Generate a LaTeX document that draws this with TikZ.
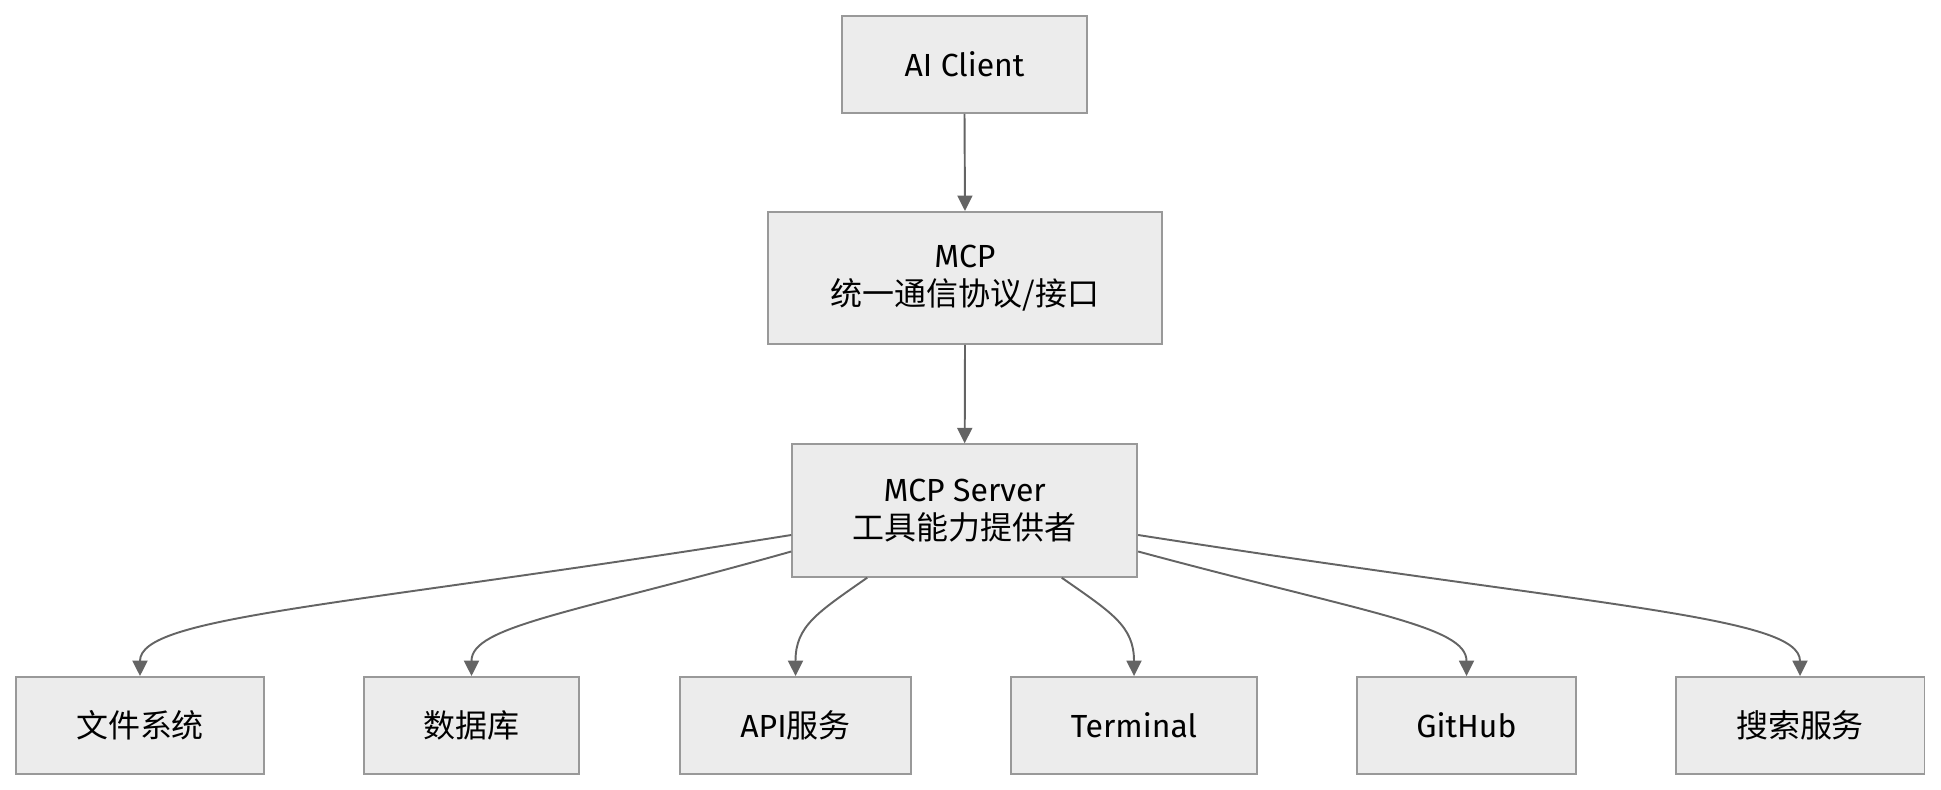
\documentclass[tikz,border=0pt]{standalone}
\usepackage{fontspec}
\setmainfont{Fira Sans}
\newfontfamily\cjk{Noto Sans CJK SC}
\usepackage{tikz}
\usetikzlibrary{arrows.meta, calc}
\definecolor{nodefill}{RGB}{236, 236, 236}
\definecolor{nodeline}{RGB}{153, 153, 153}
\definecolor{edgegray}{RGB}{100, 100, 100}

\begin{document}
\begin{tikzpicture}[
  x=0.02cm, y=-0.02cm,
  box/.style={draw=nodeline, fill=nodefill, line width=1.1pt, align=center, inner sep=0pt, font=\fontsize{18.2}{21.5}\selectfont},
  toolbox/.style={box, minimum height=1.94cm},
  arrow/.style={-{Triangle[length=3.1mm, width=3mm]}, line width=1.1pt, edgegray}
]
\useasboundingbox (0,0) rectangle (1941,790);

% Client and protocol
\node[box, minimum width=4.9cm, minimum height=1.94cm] (client) at (964.5, 64.5) {AI Client};
\node[box, minimum width=7.88cm, minimum height=2.64cm] (mcp) at (965, 278) {MCP\\\cjk 统一通信协议/接口};
\node[box, minimum width=6.9cm, minimum height=2.65cm] (server) at (964.7, 510.5) {MCP Server\\\cjk 工具能力提供者};

\draw[arrow] (client.south) -- (mcp.north);
\draw[arrow] (mcp.south) -- (server.north);

% Tools
\node[toolbox, minimum width=4.96cm] (files) at (140, 725.5) {\cjk 文件系统};
\node[toolbox, minimum width=4.3cm] (db) at (471.5, 725.5) {\cjk 数据库};
\node[toolbox, minimum width=4.62cm] (api) at (795.5, 725.5) {API{\cjk 服务}};
\node[toolbox, minimum width=4.92cm] (term) at (1134, 725.5) {Terminal};
\node[toolbox, minimum width=4.38cm] (gh) at (1466.5, 725.5) {GitHub};
\node[toolbox, minimum width=4.98cm] (search) at (1800, 725.5) {\cjk 搜索服务};

\draw[arrow] ($(server.west)+(0,24.5)$) .. controls +(-450,72) and +(0,-60) .. (files.north);
\draw[arrow] ($(server.west)+(0,41)$) .. controls +(-220,62) and +(0,-50) .. (db.north);
\draw[arrow] ($(server.south)+(-97.5,0)$) .. controls +(-50,35) and +(0,-50) .. (api.north);
\draw[arrow] ($(server.south)+(97,0)$) .. controls +(50,35) and +(0,-50) .. (term.north);
\draw[arrow] ($(server.east)+(0,41)$) .. controls +(230,62) and +(0,-50) .. (gh.north);
\draw[arrow] ($(server.east)+(0,24.5)$) .. controls +(460,72) and +(0,-60) .. (search.north);

\end{tikzpicture}
\end{document}
